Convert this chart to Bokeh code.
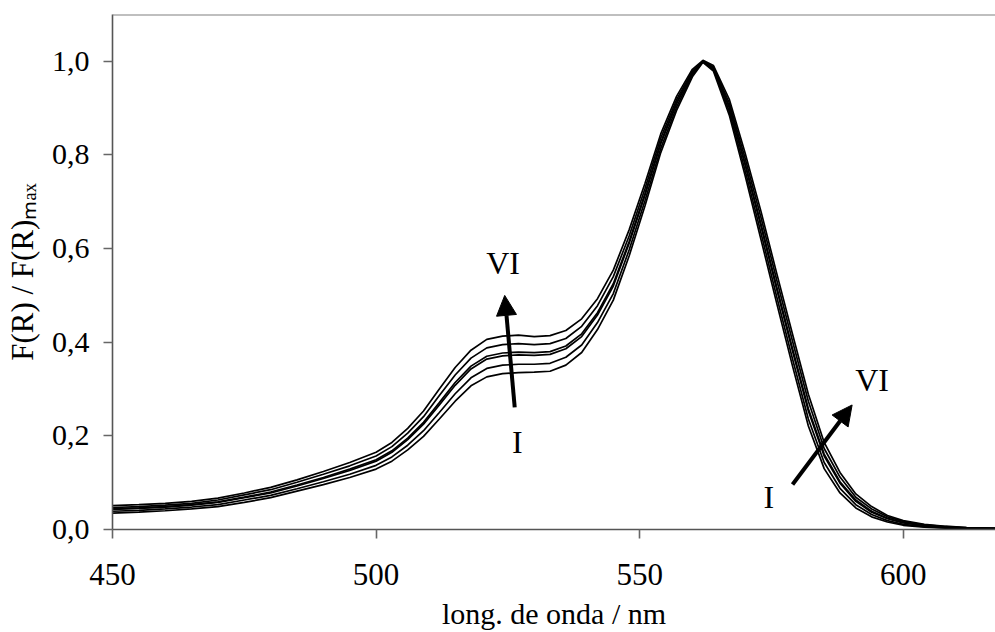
from bokeh.plotting import figure
from bokeh.models import (Range1d, FixedTicker, CustomJSTickFormatter, Span, Label,
                          Arrow, NormalHead)
from bokeh.embed import file_html
from bokeh.resources import INLINE

# ---------------- data ----------------
wavelength = [450, 455, 460, 465, 470, 475, 480, 485, 490, 495, 500,
              503, 506, 509, 512, 515, 518, 521, 524, 527, 530, 533, 536, 539,
              542, 545, 548, 551, 554, 557, 560, 562, 564,
              567, 570, 573, 576, 579, 582, 585, 588, 591, 594, 597, 600,
              604, 608, 612, 618]

serie_I = [0.035, 0.037, 0.040, 0.044, 0.049, 0.058, 0.068, 0.082, 0.096, 0.111, 0.129,
           0.146, 0.170, 0.199, 0.236, 0.274, 0.307, 0.326, 0.333, 0.335, 0.336, 0.338, 0.351, 0.378,
           0.427, 0.490, 0.584, 0.691, 0.805, 0.895, 0.967, 0.998, 0.979,
           0.885, 0.756, 0.620, 0.483, 0.349, 0.221, 0.130, 0.078, 0.046, 0.027, 0.016, 0.009,
           0.005, 0.003, 0.002, 0.001]
serie_II = [0.039, 0.041, 0.044, 0.048, 0.053, 0.063, 0.073, 0.087, 0.102, 0.118, 0.137,
            0.155, 0.180, 0.211, 0.250, 0.290, 0.324, 0.344, 0.351, 0.353, 0.353, 0.355, 0.368, 0.394,
            0.442, 0.504, 0.597, 0.702, 0.814, 0.902, 0.971, 0.999, 0.982,
            0.893, 0.767, 0.634, 0.497, 0.364, 0.236, 0.143, 0.088, 0.053, 0.032, 0.019, 0.011,
            0.006, 0.004, 0.002, 0.001]
serie_III = [0.043, 0.045, 0.048, 0.052, 0.058, 0.068, 0.078, 0.093, 0.109, 0.126, 0.146,
             0.165, 0.192, 0.225, 0.266, 0.308, 0.343, 0.364, 0.371, 0.373, 0.372, 0.374, 0.386, 0.412,
             0.458, 0.520, 0.611, 0.714, 0.824, 0.909, 0.975, 1.000, 0.985,
             0.901, 0.779, 0.648, 0.513, 0.381, 0.253, 0.157, 0.099, 0.060, 0.037, 0.023, 0.014,
             0.008, 0.005, 0.003, 0.002]
serie_IV = [0.044, 0.046, 0.049, 0.053, 0.059, 0.069, 0.080, 0.095, 0.111, 0.129, 0.149,
            0.168, 0.195, 0.229, 0.271, 0.314, 0.349, 0.370, 0.377, 0.379, 0.378, 0.380, 0.392, 0.418,
            0.463, 0.525, 0.615, 0.717, 0.827, 0.912, 0.976, 1.000, 0.986,
            0.904, 0.782, 0.653, 0.518, 0.386, 0.258, 0.161, 0.102, 0.063, 0.039, 0.024, 0.015,
            0.008, 0.005, 0.003, 0.002]
serie_V = [0.047, 0.049, 0.052, 0.056, 0.063, 0.074, 0.085, 0.101, 0.118, 0.136, 0.157,
           0.177, 0.206, 0.241, 0.286, 0.330, 0.366, 0.388, 0.395, 0.397, 0.395, 0.397, 0.408, 0.434,
           0.478, 0.540, 0.627, 0.728, 0.836, 0.918, 0.979, 1.000, 0.988,
           0.911, 0.793, 0.667, 0.533, 0.402, 0.274, 0.173, 0.112, 0.069, 0.044, 0.027, 0.017,
           0.010, 0.006, 0.004, 0.002]
serie_VI = [0.051, 0.053, 0.056, 0.060, 0.067, 0.078, 0.090, 0.106, 0.124, 0.143, 0.165,
            0.186, 0.216, 0.253, 0.300, 0.346, 0.383, 0.406, 0.413, 0.415, 0.412, 0.414, 0.425, 0.450,
            0.493, 0.554, 0.640, 0.739, 0.845, 0.925, 0.983, 1.002, 0.991,
            0.919, 0.804, 0.680, 0.547, 0.417, 0.289, 0.186, 0.122, 0.076, 0.049, 0.030, 0.019,
            0.011, 0.007, 0.004, 0.003]

series = [serie_I, serie_II, serie_III, serie_IV, serie_V, serie_VI]

x_ticks = [450, 500, 550, 600]
y_ticks = [0.0, 0.2, 0.4, 0.6, 0.8, 1.0]

x_label = "long. de onda / nm"
y_label = "F(R) / F(R)\u2098\u2090\u2093"   # subscript "max"

# annotation arrows (data coordinates): (x_start, y_start, x_end, y_end)
arrow_shoulder = (526.3, 0.261, 524.4, 0.500)
arrow_tail = (579.0, 0.096, 590.3, 0.266)
# annotation texts: (text, x, y)
arrow_texts = [("VI", 524.1, 0.570), ("I", 526.8, 0.186),
               ("VI", 594.1, 0.319), ("I", 574.5, 0.069)]

FONT = "Liberation Serif"

# ---------------- figure ----------------
p = figure(width=995, height=632, output_backend="svg", toolbar_location=None,
           x_range=Range1d(450, 617.5), y_range=Range1d(0, 1.1),
           min_border_left=112, min_border_right=0, min_border_top=14,
           min_border_bottom=103)
p.background_fill_color = "white"
p.border_fill_color = "white"
p.outline_line_color = None
p.grid.visible = False

for s in series:
    p.line(wavelength, s, line_color="black", line_width=1.7)

# axes
for ax in (p.xaxis[0], p.yaxis[0]):
    ax.axis_line_color = "#555555"
    ax.axis_line_width = 1.6
    ax.major_tick_line_color = "#666666"
    ax.major_tick_line_width = 1.6
    ax.major_tick_out = 9
    ax.major_tick_in = 0
    ax.minor_tick_line_color = None
    ax.major_label_text_font = FONT
    ax.major_label_text_color = "black"
    ax.axis_label_text_font = FONT
    ax.axis_label_text_font_style = "normal"
    ax.axis_label_text_color = "black"

p.xaxis.major_label_text_font_size = "31px"
p.yaxis.major_label_text_font_size = "30px"
p.xaxis.ticker = FixedTicker(ticks=x_ticks)
p.yaxis.ticker = FixedTicker(ticks=y_ticks)
p.yaxis.formatter = CustomJSTickFormatter(code="return tick.toFixed(1).replace('.', ',');")
p.xaxis.formatter = CustomJSTickFormatter(code="return tick.toFixed(0);")
p.xaxis.major_label_standoff = 25
p.yaxis.major_label_standoff = 14

p.xaxis.axis_label = x_label
p.xaxis.axis_label_text_font_size = "30px"
p.xaxis.axis_label_standoff = 9

p.yaxis.axis_label = y_label
p.yaxis.axis_label_text_font_size = "31px"
p.yaxis.axis_label_standoff = 9

# top frame line
p.add_layout(Span(location=1.1, dimension="width", line_color="#808080", line_width=2))

# arrows
for (xs, ys, xe, ye) in (arrow_shoulder, arrow_tail):
    p.add_layout(Arrow(end=NormalHead(size=20, fill_color="black", line_color="black"),
                       x_start=xs, y_start=ys, x_end=xe, y_end=ye,
                       line_color="black", line_width=4))

for (t, tx, ty) in arrow_texts:
    p.add_layout(Label(x=tx, y=ty, text=t, text_font=FONT, text_font_size="32px",
                       text_align="center", text_baseline="middle", text_color="black"))

open("out.html", "w").write(file_html(p, INLINE))
